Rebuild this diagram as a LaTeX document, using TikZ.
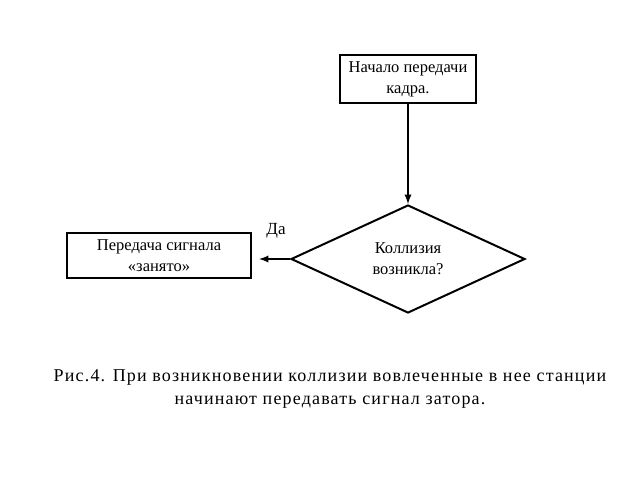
\documentclass[tikz,border=0pt]{standalone}
\usepackage{fontspec}
\setmainfont{Liberation Serif}
\usetikzlibrary{arrows, positioning, shapes.geometric}

\begin{document}
\begin{tikzpicture}[x=1pt, y=-1pt, line width=2pt]
	\tikzset{
		>=latex, % filled arrow heads
		boxtext/.style={font=\fontsize{16.5}{21}\selectfont}, % text size in the boxes
	}
	\tikzstyle{block} = [draw, boxtext, line width=2pt, rectangle, align=center, inner sep=0pt]
	\tikzstyle{decision} = [draw, boxtext, line width=2pt, diamond, align=center, inner sep=0pt, minimum width=234pt, minimum height=108pt]
	\useasboundingbox (0,0) rectangle (638,479);
    \node[block, minimum width=136pt, minimum height=48pt] (start) at (408,79) {Начало передачи\\кадра.};
    \node[decision] (coll) at (408,259) {Коллизия\\возникла?};
    \node[block, minimum width=184pt, minimum height=45pt] (jam) at (159,255.5) {Передача сигнала\\«занято»};
    \coordinate (jamend) at ([xshift=7pt]jam.east);
    \draw[->, line width=2.2pt] (start.south) -- (coll.north);
    \draw[->, line width=2.2pt] (coll.west) -- node[above, pos=0.45, yshift=16pt, font=\fontsize{17}{18}\selectfont]{Да} (coll.west -| jamend);
    % caption
    \node[align=center, font=\fontsize{18}{23}\selectfont\addfontfeature{LetterSpace=6.5}] (caption) at (330,389) {Рис.4. При возникновении коллизии вовлеченные в нее станции\\начинают передавать сигнал затора.};
  \end{tikzpicture}
\end{document}
